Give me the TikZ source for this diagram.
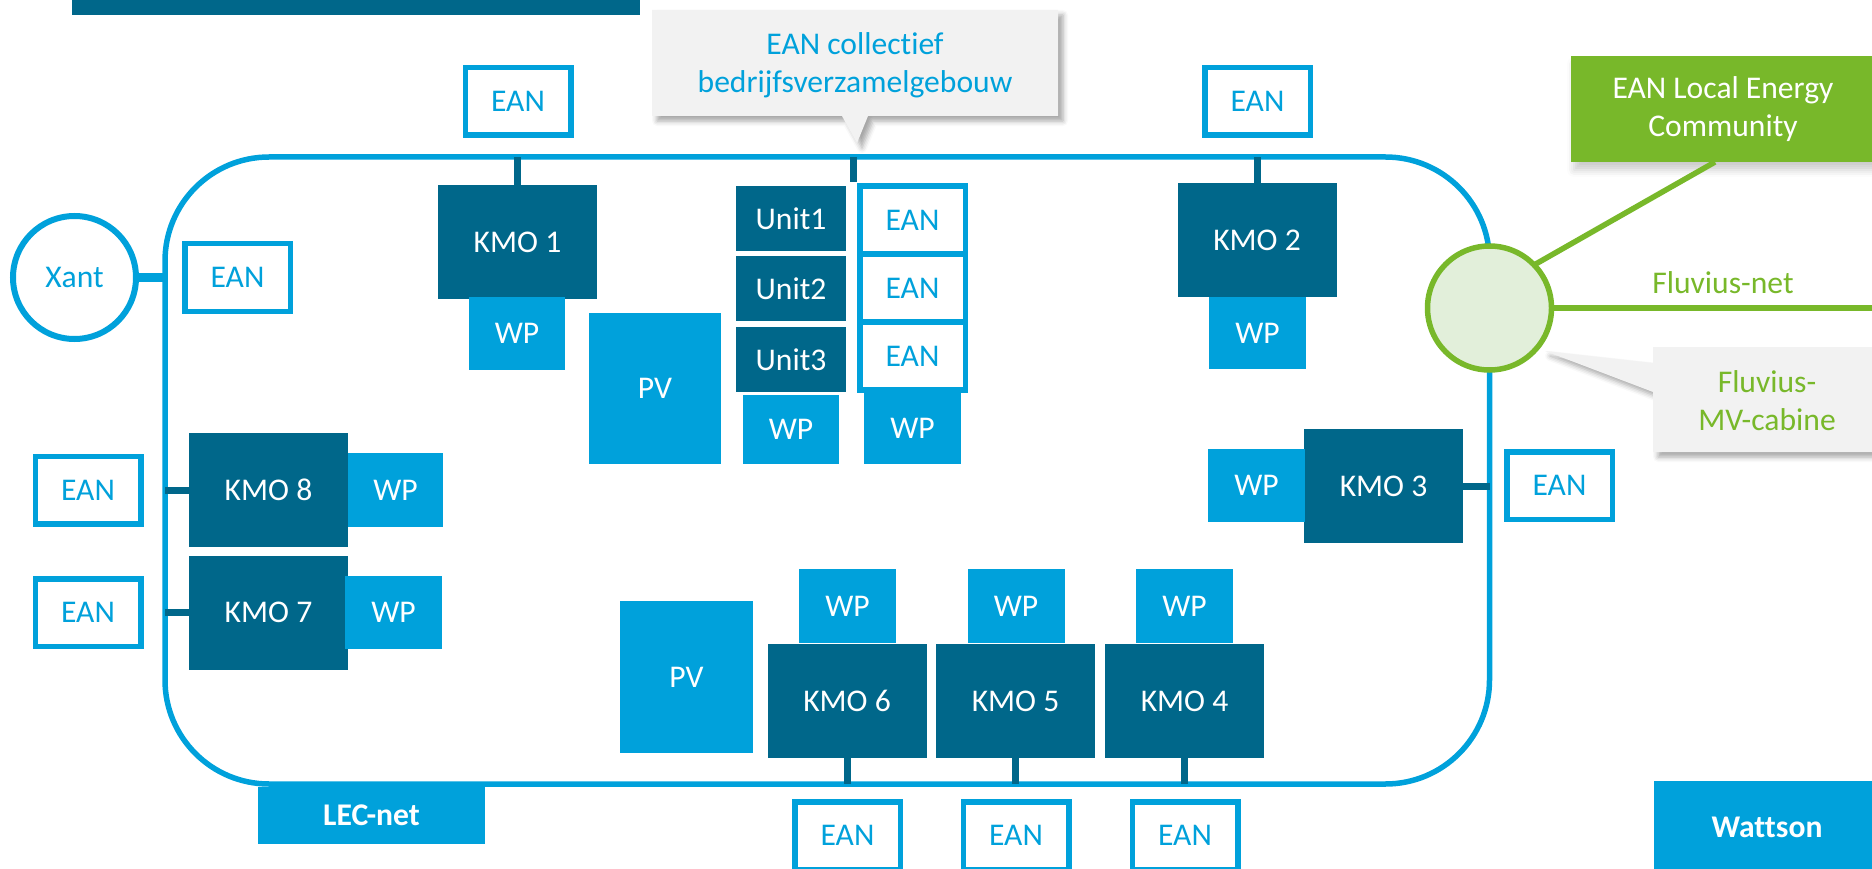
\documentclass[tikz,border=0pt]{standalone}
\usepackage{fontspec}
\setmainfont{Carlito}[Ligatures=NoCommon]
\usetikzlibrary{shadows.blur}
\definecolor{dkblue}{HTML}{00678A}
\definecolor{ltblue}{HTML}{00A1DB}
\definecolor{lecgreen}{HTML}{78B82A}
\definecolor{lgreen}{HTML}{E2EFDA}
\definecolor{callgray}{HTML}{F2F2F2}
\newcommand\dfont{\fontsize{31.6pt}{38pt}\selectfont}
\tikzset{
  every node/.style={font=\dfont, inner sep=0pt, outer sep=0pt},
  kmo/.style={fill=dkblue, text=white, minimum width=159pt, minimum height=114pt},
  unitbox/.style={fill=dkblue, text=white, minimum width=110pt, minimum height=65pt},
  wp/.style={fill=ltblue, text=white, minimum width=97pt, minimum height=73pt},
  pv/.style={fill=ltblue, text=white},
  ean/.style={draw=ltblue, line width=5.5pt, fill=white, text=ltblue, minimum width=105.5pt, minimum height=67.5pt},
  lecline/.style={draw=ltblue, line width=5.5pt},
  stub/.style={draw=dkblue, line width=7pt},
  greenline/.style={draw=lecgreen, line width=5.5pt},
  callout/.style={fill=callgray, blur shadow={shadow xshift=5pt, shadow yshift=-5pt, shadow blur radius=5pt, shadow opacity=35}},
  label/.style={fill=ltblue, text=white, font=\dfont\bfseries},
}
\begin{document}
\begin{tikzpicture}[x=1pt, y=-1pt]
\useasboundingbox (0,0) rectangle (1872,869);

% top bar
\fill[dkblue] (72,-5) rectangle (640,15);

% callouts
\path[callout] (652,10) -- (1058,10) -- (1058,116) -- (868,116) -- (857,143) -- (842,116) -- (652,116) -- cycle;
\node[text=ltblue, align=center] (coll) at (855,65) {EAN collectief\\bedrijfsverzamelgebouw};
\path[callout] (1653,347) -- (1890,347) -- (1890,452) -- (1653,452) -- (1653,392) -- (1545,351) -- (1653,363) -- cycle;
\node[text=lecgreen, align=center] (mv) at (1767,401) {Fluvius-\\MV-cabine};

% LEC loop
\coordinate (ltop) at (0,157);
\coordinate (lbot) at (0,784);
\coordinate (lleft) at (165,0);
\coordinate (lright) at (1489.5,0);
\draw[lecline, rounded corners=104pt] (165,157) rectangle (1489.5,784);

% collective building stub
\coordinate (cs1) at (853,157);
\coordinate (cs2) at (853,182);
\draw[stub] (cs1) -- (cs2);

% KMO boxes
\node[kmo] (k1) at (517.5,242) {KMO 1};
\node[kmo] (k2) at (1257,240) {KMO 2};
\node[kmo] (k3) at (1383.5,486) {KMO 3};
\node[kmo] (k4) at (1184.5,701) {KMO 4};
\node[kmo] (k5) at (1015.5,701) {KMO 5};
\node[kmo] (k6) at (847,701) {KMO 6};
\node[kmo] (k7) at (268.5,612.5) {KMO 7};
\node[kmo] (k8) at (268.5,490) {KMO 8};

% stubs
\draw[stub] (k1.north) -- (k1.north |- ltop);
\draw[stub] (k2.north) -- (k2.north |- ltop);
\draw[stub] (k3.east) -- (k3.east -| lright);
\draw[stub] (k4.south) -- (k4.south |- lbot);
\draw[stub] (k5.south) -- (k5.south |- lbot);
\draw[stub] (k6.south) -- (k6.south |- lbot);
\draw[stub] (k7.west) -- (k7.west -| lleft);
\draw[stub] (k8.west) -- (k8.west -| lleft);

% WP boxes
\node[wp, minimum width=96pt] (wp1) at (517,333.5) {WP};
\node[wp, minimum height=72pt] (wp2) at (1257.5,333) {WP};
\node[wp] (wp3) at (1256.5,485.5) {WP};
\node[wp, minimum height=74pt] (wp4) at (1184.5,606) {WP};
\node[wp, minimum height=74pt] (wp5) at (1016,606) {WP};
\node[wp, minimum height=74pt] (wp6) at (847.5,606) {WP};
\node[wp] (wp7) at (393.5,612.5) {WP};
\node[wp, minimum width=95pt, minimum height=74pt] (wp8) at (395.5,490) {WP};
\node[wp, minimum width=96pt, minimum height=69pt] (wpu) at (791,429.5) {WP};
\node[wp, minimum height=71pt] (wpe) at (912.5,428.5) {WP};

% units
\node[unitbox] (u1) at (791,218.5) {Unit1};
\node[unitbox] (u2) at (791,288.5) {Unit2};
\node[unitbox] (u3) at (791,359.5) {Unit3};
\node[ean, minimum height=68pt] (eu1) at (912.5,220) {EAN};
\node[ean, minimum height=68pt] (eu2) at (912.5,288) {EAN};
\node[ean, minimum height=68pt] (eu3) at (912.5,356) {EAN};

% PV
\node[pv, minimum width=132pt, minimum height=151pt] (pv1) at (655,388.5) {PV};
\node[pv, minimum width=133pt, minimum height=152pt] (pv2) at (686.5,677) {PV};

% EAN boxes
\node[ean] (e1) at (518,101.5) {EAN};
\node[ean] (e2) at (1257.5,101.5) {EAN};
\node[ean] (e3) at (1559.5,485.5) {EAN};
\node[ean] (e4) at (1185,835.5) {EAN};
\node[ean] (e5) at (1016,835.5) {EAN};
\node[ean] (e6) at (847.5,835.5) {EAN};
\node[ean] (e7) at (88,612.5) {EAN};
\node[ean] (e8) at (88,490) {EAN};
\node[ean] (ex) at (237.5,277.5) {EAN};

% Xant
\node[circle, draw=ltblue, line width=6pt, fill=white, text=ltblue, minimum size=123pt] (xant) at (74.5,277.5) {Xant};
\draw[draw=ltblue, line width=8pt] (xant.east) -- (xant.east -| lleft);

% labels
\node[label, minimum width=227pt, minimum height=57pt] (lecnet) at (371.5,815.5) {LEC-net};
\node[label, minimum width=226pt, minimum height=92pt] (wattson) at (1767,827) {Wattson};

% cabine and green part
\node[circle, draw=lecgreen, line width=5.5pt, fill=lgreen, minimum size=124pt] (cab) at (1489.5,308) {};
\node[fill=lecgreen, text=white, align=center, minimum width=304pt, minimum height=106pt,
  blur shadow={shadow xshift=3pt, shadow yshift=-8pt, shadow blur radius=7pt, shadow opacity=20}] (lec) at (1723,109) {EAN Local Energy\\Community};
\coordinate (netend) at (1880,308);
\draw[greenline] (cab.east) -- (netend);
\draw[greenline] (cab.44) -- ([xshift=-8pt]lec.south);
\node[text=lecgreen] (fnet) at (1723,283) {Fluvius-net};
\end{tikzpicture}
\end{document}
